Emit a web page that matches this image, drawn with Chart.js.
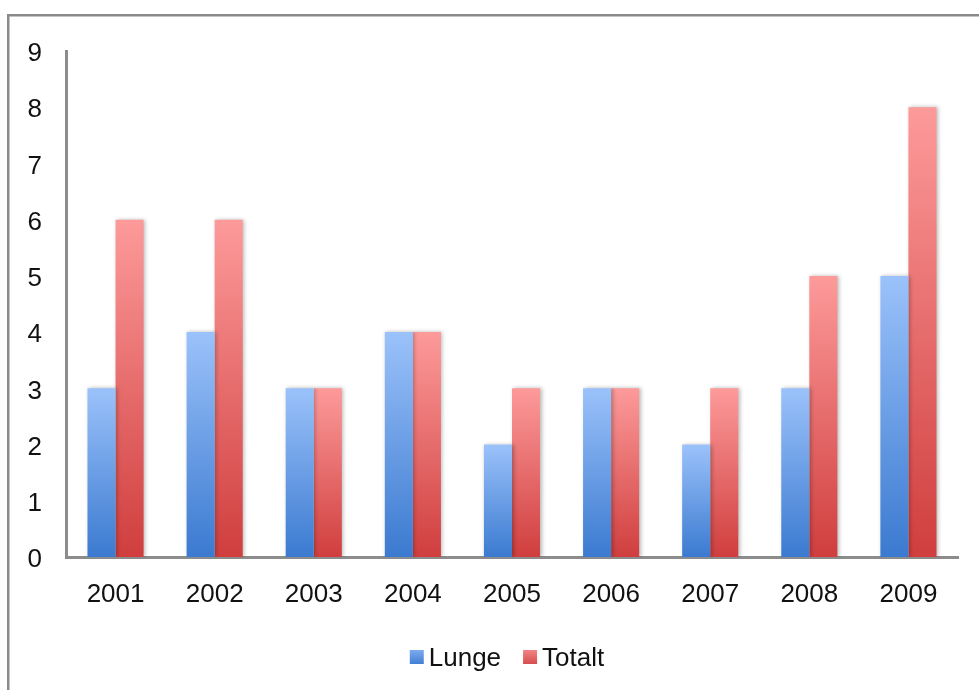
<!DOCTYPE html>
<html>
<head>
<meta charset="utf-8">
<script src="https://cdn.jsdelivr.net/npm/chart.js@4/dist/chart.umd.min.js"></script>
<style>
  html, body { margin: 0; padding: 0; background: #ffffff; }
  #wrap { position: relative; width: 979px; height: 690px; }
</style>
</head>
<body>
<div id="wrap"><canvas id="c" width="979" height="690"></canvas></div>
<script>
// Yearly counts
const years = ['2001', '2002', '2003', '2004', '2005', '2006', '2007', '2008', '2009'];
const lunge = [3, 4, 3, 4, 2, 3, 2, 3, 5];
const totalt = [6, 6, 3, 4, 3, 3, 3, 5, 8];
const yTicks = [0, 1, 2, 3, 4, 5, 6, 7, 8, 9];

const FONT = "'Liberation Sans', Arial, Helvetica, sans-serif";
const FONT_SIZE = 26;

// Vertical gradient spanning each bar from its top down to the baseline
function barGradient(topColor, bottomColor) {
  return (ctx) => {
    const chart = ctx.chart;
    const y = chart.scales && chart.scales.y;
    if (!y || ctx.type !== 'data') return bottomColor;
    const v = ctx.parsed ? ctx.parsed.y : ctx.raw;
    const yt = y.getPixelForValue(v);
    const yb = y.getPixelForValue(0);
    if (!isFinite(yt) || !isFinite(yb) || yt === yb) return bottomColor;
    const g = chart.ctx.createLinearGradient(0, yt, 0, yb);
    g.addColorStop(0, topColor);
    g.addColorStop(1, bottomColor);
    return g;
  };
}

const seriesColors = [
  { top: '#9bc2fa', bottom: '#3b7ad0', key: ['#78a8ee', '#3f7ccf'] },
  { top: '#fd9a9a', bottom: '#d03e3e', key: ['#f08080', '#d44a4a'] }
];

// Grey frame along the top and left of the canvas
const framePlugin = {
  id: 'frame',
  beforeDraw(chart) {
    const c = chart.ctx;
    c.save();
    c.fillStyle = '#8a8a8a';
    c.fillRect(7, 14, chart.width - 7, 2.5);
    c.fillRect(7, 14, 2.5, chart.height - 14);
    c.restore();
  }
};

// Soft drop shadow behind the bars
const shadowPlugin = {
  id: 'barShadow',
  beforeDatasetsDraw(chart) {
    const c = chart.ctx;
    c.save();
    c.shadowColor = 'rgba(0,0,0,0.28)';
    c.shadowBlur = 4;
    c.shadowOffsetX = 1.5;
    c.shadowOffsetY = 0;
  },
  afterDatasetsDraw(chart) {
    chart.ctx.restore();
  }
};

// Compact legend centred under the plot: small square key, tight gap, then label
const keyPlugin = {
  id: 'seriesKey',
  afterDraw(chart) {
    const c = chart.ctx;
    const area = chart.chartArea;
    const box = 14, gap = 5, spacing = 22;
    c.save();
    c.font = FONT_SIZE + 'px ' + FONT;
    c.textBaseline = 'middle';
    c.textAlign = 'left';
    const items = chart.data.datasets.map((ds, i) => ({
      text: ds.label,
      colors: seriesColors[i].key,
      w: box + gap + c.measureText(ds.label).width
    }));
    const total = items.reduce((s, it) => s + it.w, 0) + spacing * (items.length - 1);
    let x = (area.left + area.right) / 2 - 5 - total / 2;
    const cy = area.bottom + 101;
    items.forEach((it) => {
      const g = c.createLinearGradient(0, cy - box / 2, 0, cy + box / 2);
      g.addColorStop(0, it.colors[0]);
      g.addColorStop(1, it.colors[1]);
      c.fillStyle = g;
      c.fillRect(x, cy - box / 2 - 1, box, box);
      c.fillStyle = '#111';
      c.fillText(it.text, x + box + gap, cy + 1);
      x += it.w + spacing;
    });
    c.restore();
  }
};

new Chart(document.getElementById('c'), {
  type: 'bar',
  data: {
    labels: years,
    datasets: [
      {
        label: 'Lunge',
        data: lunge,
        backgroundColor: barGradient(seriesColors[0].top, seriesColors[0].bottom),
        borderWidth: 0
      },
      {
        label: 'Totalt',
        data: totalt,
        backgroundColor: barGradient(seriesColors[1].top, seriesColors[1].bottom),
        borderWidth: 0
      }
    ]
  },
  options: {
    responsive: false,
    animation: false,
    devicePixelRatio: 1,
    layout: { padding: { top: 51, right: 21, bottom: 65, left: 0 } },
    datasets: {
      bar: { categoryPercentage: 0.566, barPercentage: 1.0 }
    },
    scales: {
      x: {
        grid: { display: false, drawTicks: false },
        border: { display: true, color: '#8c8c8c', width: 3 },
        ticks: {
          color: '#111',
          font: { family: FONT, size: FONT_SIZE },
          padding: 22,
          maxRotation: 0
        },
        afterFit(scale) { scale.height = 68; }
      },
      y: {
        min: 0,
        max: 9,
        grid: { display: false, drawTicks: false },
        border: { display: true, color: '#8c8c8c', width: 3 },
        afterBuildTicks(scale) { scale.ticks = yTicks.map(v => ({ value: v })); },
        ticks: {
          color: '#111',
          font: { family: FONT, size: FONT_SIZE },
          padding: 24,
          labelOffset: 3
        },
        afterFit(scale) { scale.width = 66; }
      }
    },
    plugins: {
      tooltip: { enabled: false },
      legend: { display: false }
    }
  },
  plugins: [framePlugin, shadowPlugin, keyPlugin]
});
</script>
</body>
</html>
